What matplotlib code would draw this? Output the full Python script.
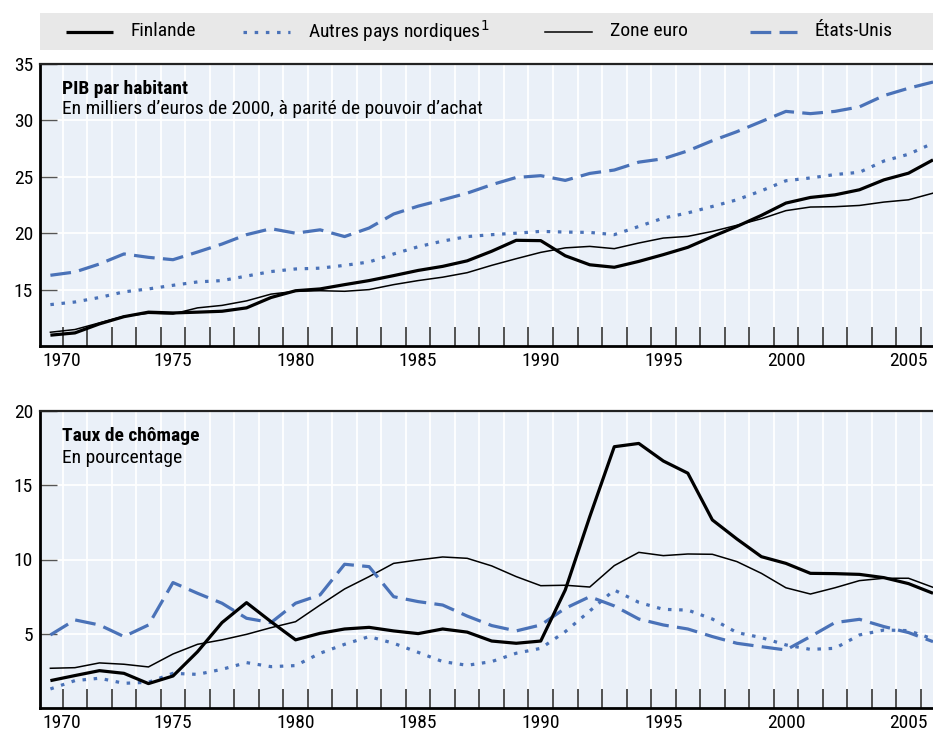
import numpy as np
import matplotlib.pyplot as plt
import matplotlib.font_manager as fm
from matplotlib.lines import Line2D

# the original uses a condensed sans; take the narrowest one that is installed
installed = {f.name for f in fm.fontManager.ttflist}
font = 'DejaVu Sans'
for cand in ['Roboto Condensed', 'Liberation Sans Narrow', 'Open Sans Condensed', 'Roboto']:
    if cand in installed:
        font = cand
        break
plt.rcParams['font.family'] = [font, 'DejaVu Sans']

years = np.arange(1970, 2007)

# PIB par habitant, milliers d'euros de 2000 (PPA)
pib_finlande = [10.96, 11.16, 11.96, 12.6, 13.0, 12.93, 13.0, 13.08, 13.38, 14.3,
                14.9, 15.06, 15.44, 15.8, 16.24, 16.7, 17.06, 17.55, 18.4, 19.37,
                19.34, 18.0, 17.2, 16.98, 17.5, 18.1, 18.75, 19.7, 20.6, 21.58,
                22.67, 23.17, 23.4, 23.85, 24.73, 25.32, 26.5]
pib_nordiques = [13.67, 13.9, 14.3, 14.8, 15.06, 15.38, 15.68, 15.8, 16.2, 16.6,
                 16.83, 16.9, 17.15, 17.45, 18.16, 18.8, 19.3, 19.7, 19.87, 20.0,
                 20.16, 20.1, 20.07, 19.87, 20.6, 21.34, 21.8, 22.37, 22.96, 23.76,
                 24.65, 24.9, 25.2, 25.4, 26.4, 27.0, 27.98]
pib_zone_euro = [11.22, 11.46, 12.05, 12.64, 12.9, 12.84, 13.38, 13.6, 14.0, 14.6,
                 14.85, 14.9, 14.85, 15.0, 15.44, 15.8, 16.1, 16.5, 17.15, 17.74,
                 18.3, 18.7, 18.83, 18.63, 19.13, 19.57, 19.72, 20.16, 20.7, 21.28,
                 22.0, 22.32, 22.35, 22.46, 22.76, 22.96, 23.55]
pib_usa = [16.27, 16.56, 17.27, 18.16, 17.86, 17.65, 18.33, 19.04, 19.87, 20.4,
           20.0, 20.3, 19.7, 20.46, 21.7, 22.4, 22.96, 23.55, 24.3, 24.94,
           25.1, 24.68, 25.3, 25.6, 26.3, 26.6, 27.3, 28.2, 29.0, 29.9,
           30.8, 30.6, 30.8, 31.2, 32.2, 32.85, 33.4]

# Taux de chômage, en pourcentage
cho_finlande = [1.86, 2.2, 2.53, 2.35, 1.66, 2.17, 3.8, 5.76, 7.1, 5.82,
                4.6, 5.04, 5.33, 5.44, 5.2, 5.02, 5.33, 5.12, 4.52, 4.37,
                4.52, 7.95, 12.88, 17.58, 17.8, 16.62, 15.8, 12.66, 11.38, 10.19,
                9.74, 9.07, 9.05, 9.0, 8.78, 8.38, 7.73]
cho_nordiques = [1.3, 1.86, 2.02, 1.68, 1.75, 2.35, 2.28, 2.62, 3.07, 2.8,
                 2.87, 3.7, 4.3, 4.82, 4.37, 3.76, 3.14, 2.89, 3.14, 3.7,
                 4.03, 5.15, 6.54, 7.95, 7.12, 6.65, 6.6, 6.0, 5.09, 4.75,
                 4.26, 3.96, 4.03, 4.93, 5.26, 5.22, 4.66]
cho_zone_euro = [2.69, 2.73, 3.05, 2.96, 2.78, 3.65, 4.3, 4.6, 4.97, 5.42,
                 5.82, 6.94, 8.02, 8.85, 9.74, 9.97, 10.17, 10.08, 9.57, 8.85,
                 8.24, 8.27, 8.15, 9.59, 10.48, 10.26, 10.37, 10.35, 9.86, 9.07,
                 8.1, 7.68, 8.1, 8.58, 8.74, 8.74, 8.13]
cho_usa = [4.93, 5.94, 5.6, 4.82, 5.6, 8.45, 7.73, 7.06, 6.05, 5.76,
           7.06, 7.62, 9.68, 9.52, 7.5, 7.17, 6.94, 6.2, 5.56, 5.2,
           5.6, 6.72, 7.5, 6.88, 6.0, 5.6, 5.33, 4.82, 4.37, 4.14,
           3.92, 4.82, 5.76, 5.98, 5.49, 5.09, 4.48]

label_years = [1970, 1975, 1980, 1985, 1990, 1995, 2000, 2005]
series_names = ['Finlande', 'Autres pays nordiques$^1$', 'Zone euro', 'États-Unis']

BLUE = '#4a72b8'
BG = '#eaf0f8'
styles = [
    dict(color='black', lw=2.3, solid_capstyle='butt'),
    dict(color=BLUE, lw=2.3, dashes=(1.1, 2.4)),
    dict(color='black', lw=1.1),
    dict(color=BLUE, lw=2.3, dashes=(6.5, 2.6)),
]
FS = 14

W, H = 933, 735
fig = plt.figure(figsize=(W / 100, H / 100), dpi=100)


def px_axes(left, top, right, bottom):
    return fig.add_axes([left / W, 1 - bottom / H, (right - left) / W, (bottom - top) / H])


def style_panel(ax, ylim, yticks, title, subtitle):
    ax.set_facecolor(BG)
    ax.set_xlim(1969.576, 2006.0)
    ax.set_ylim(*ylim)
    # year labels (first one nudged right as in the original)
    ax.set_xticks([1970.47] + label_years[1:])
    ax.set_xticklabels([str(y) for y in label_years], fontsize=FS)
    ax.tick_params(axis='x', which='major', length=0, pad=4)
    ax.set_xticks(np.arange(1970.5, 2006, 1.0), minor=True)
    ax.tick_params(axis='x', which='minor', direction='in', length=14, width=1.3,
                   color='#444444')
    ax.set_yticks(yticks)
    ax.set_yticklabels([str(t) for t in yticks], fontsize=FS)
    ax.tick_params(axis='y', direction='in', length=12, width=1.0, color='#555555', pad=5)
    ax.grid(True, which='minor', axis='x', color='white', lw=1.3)
    ax.grid(True, which='major', axis='y', color='white', lw=1.3)
    ax.set_axisbelow(True)
    for s in ['left', 'bottom']:
        ax.spines[s].set_linewidth(2.0)
    ax.spines['top'].set_linewidth(1.6)
    ax.spines['top'].set_color('#222222')
    ax.spines['right'].set_visible(False)
    ax.text(0.025, 0.945, title, transform=ax.transAxes, fontsize=FS,
            fontweight='bold', va='top', ha='left')
    ax.text(0.025, 0.872, subtitle, transform=ax.transAxes, fontsize=FS,
            va='top', ha='left')


ax1 = px_axes(40, 64, 933, 346)
ax2 = px_axes(40, 410.7, 933, 708.3)

for data, st in zip([pib_zone_euro, pib_nordiques, pib_usa, pib_finlande],
                    [styles[2], styles[1], styles[3], styles[0]]):
    ax1.plot(years, data, **st)
for data, st in zip([cho_zone_euro, cho_nordiques, cho_usa, cho_finlande],
                    [styles[2], styles[1], styles[3], styles[0]]):
    ax2.plot(years, data, **st)

style_panel(ax1, (10, 35), [15, 20, 25, 30, 35], 'PIB par habitant',
            'En milliers d\u2019euros de 2000, à parité de pouvoir d\u2019achat')
style_panel(ax2, (0, 20), [5, 10, 15, 20], 'Taux de chômage', 'En pourcentage')

# legend band
axl = px_axes(40, 13, 933, 50)
axl.set_facecolor('#e8e8e8')
axl.set_xlim(40, 933)
axl.set_ylim(0, 1)
axl.set_xticks([])
axl.set_yticks([])
for s in axl.spines.values():
    s.set_visible(False)
key_x = [66, 243, 545, 750]
for x0, name, st in zip(key_x, series_names, styles):
    axl.add_line(Line2D([x0, x0 + 47], [0.5, 0.5], **st))
    axl.text(x0 + 65, 0.5, name, fontsize=FS, va='center', ha='left')

fig.savefig('out.png', dpi=100)
